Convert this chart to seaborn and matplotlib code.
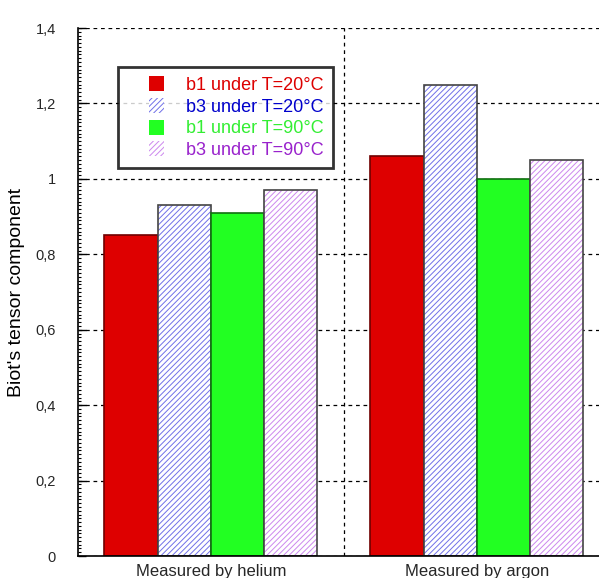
import pandas as pd
import seaborn as sns
import matplotlib.pyplot as plt
import matplotlib.colors as mcolors
from matplotlib.patches import Patch, Rectangle
from matplotlib.legend_handler import HandlerPatch
from matplotlib.ticker import MultipleLocator, FuncFormatter

# data
groups = ["Measured by helium", "Measured by argon"]
series = ["b1 under T=20°C", "b3 under T=20°C", "b1 under T=90°C", "b3 under T=90°C"]
b1_20 = [0.85, 1.06]
b3_20 = [0.93, 1.25]
b1_90 = [0.91, 1.00]
b3_90 = [0.97, 1.05]

# styles per series
fill_colors = ["#de0000", "white", "#22ff22", "white"]
hatch_colors = [None, "#7070e8", None, "#cc88ee"]
edge_colors = ["#700000", "#444444", "#107010", "#444444"]
text_colors = ["#dd0000", "#0000cc", "#33ee33", "#9922cc"]

rows = []
for name, vals in zip(series, [b1_20, b3_20, b1_90, b3_90]):
    for g, v in zip(groups, vals):
        rows.append({"group": g, "series": name, "value": v})
df = pd.DataFrame(rows)

sns.set_theme(style="white")
plt.rcParams["font.family"] = ["Liberation Sans", "DejaVu Sans"]
plt.rcParams["hatch.linewidth"] = 0.7

fig = plt.figure(figsize=(5.99, 5.78), dpi=100)
ax = fig.add_axes([0.130, 0.038, 0.888, 0.9135])

sns.barplot(data=df, x="group", y="value", hue="series", order=groups,
            hue_order=series, palette=fill_colors, saturation=1, width=0.8,
            gap=0, errorbar=None, legend=False, ax=ax)

# restyle bars: solid or hatched
hatch = "//////"
handles = []
for cont, fc, hc, ec in zip(ax.containers, fill_colors, hatch_colors, edge_colors):
    for p in cont:
        p.set_facecolor(fc)
        p.set_edgecolor(ec)
        p.set_linewidth(1.2)
        if hc:
            p.set_hatch(hatch)
            p._hatch_color = mcolors.to_rgba(hc)
    handles.append(Patch(facecolor=fc, edgecolor=hc or fc,
                         hatch=hatch if hc else None, linewidth=0))

ax.set_xlim(-0.5, 1.5)
ax.set_ylim(0, 1.4)
ax.set_axisbelow(True)

# axes, ticks and grid
ax.yaxis.set_major_locator(MultipleLocator(0.2))
ax.yaxis.set_minor_locator(MultipleLocator(0.01))
ax.yaxis.set_major_formatter(FuncFormatter(lambda v, pos: f"{round(v, 1):g}".replace(".", ",")))
ax.set_xticks([0.5], minor=True)
ax.yaxis.grid(True, which="major", linestyle=(0, (3, 3)), color="black", linewidth=0.9)
ax.xaxis.grid(True, which="minor", linestyle=(0, (3, 3)), color="black", linewidth=0.9)
ax.xaxis.grid(False, which="major")

ax.tick_params(axis="y", which="major", direction="in", length=6, width=1,
               color="black", pad=16, labelsize=10.5, left=True)
ax.tick_params(axis="y", which="minor", direction="in", length=2.5, width=0.8,
               color="black", left=True)
ax.tick_params(axis="x", which="both", length=0, labelsize=12, pad=6)

for side in ["top", "right"]:
    ax.spines[side].set_visible(False)
for side in ["left", "bottom"]:
    ax.spines[side].set_color("black")
    ax.spines[side].set_linewidth(1.2)

ax.set_xlabel("")
ax.set_ylabel("Biot's tensor component", fontsize=14, color="black")
ax.yaxis.set_label_coords(-0.1, 0.5)


# legend square sits at the right end of a wider handle box
def square(legend, orig_handle, xdescent, ydescent, width, height, fontsize):
    return Rectangle((-xdescent + width - height, -ydescent), height, height)


leg = ax.legend(handles, series, loc="upper left", bbox_to_anchor=(0.075, 0.926),
                borderaxespad=0, frameon=True, fancybox=False, edgecolor="black",
                fontsize=13, handlelength=2.05, handleheight=0.9, handletextpad=1.25,
                labelspacing=0.22, borderpad=0.5,
                handler_map={Patch: HandlerPatch(patch_func=square)})
leg.get_frame().set_linewidth(2)
for t, c in zip(leg.get_texts(), text_colors):
    t.set_color(c)

fig.savefig("out.png", dpi=100)
